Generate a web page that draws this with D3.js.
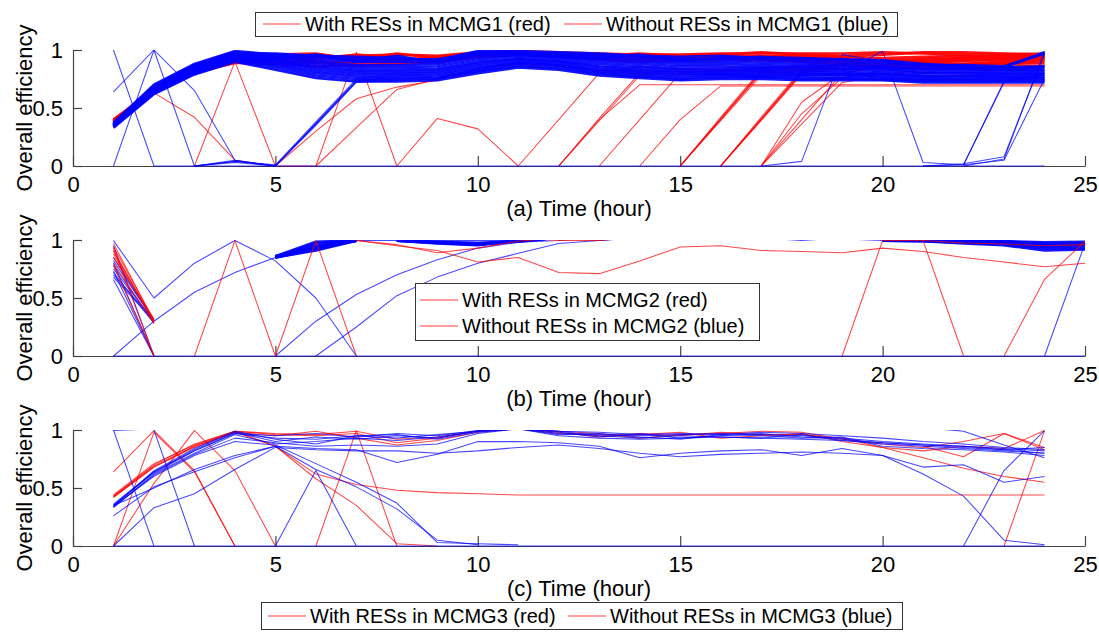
<!DOCTYPE html>
<html><head><meta charset="utf-8">
<script src="https://cdn.jsdelivr.net/npm/d3@7"></script>
<style>
body{margin:0;background:#fff}
svg{display:block}
text{font-family:"Liberation Sans",Arial,Helvetica,sans-serif;fill:#000}
</style>
</head><body>
<svg id="chart" width="1099" height="632"></svg>
<script>
const _ = null;
const hoursA = [1,2,3,4,5,6,7,8,9,10,11,12,13,14,15,16,17,18,19,20,21,22,23,24];
const hoursB = [1,2,3,4,5,6,7,8,9,10,11,12,13,14,15,16,17,18,19,20,21,22,23,24,25];
const hoursC = [1,2,3,4,5,6,7,8,9,10,11,12,13,14,15,16,17,18,19,20,21,22,23,24];
const xTicks = [0,5,10,15,20,25];
const yTicks = [0,0.5,1];
const yTitle = 'Overall efficiency';
const xTitles = ['(a) Time (hour)','(b) Time (hour)','(c) Time (hour)'];
const legendA = ['With RESs in MCMG1 (red)','Without RESs in MCMG1 (blue)'];
const legendB = ['With RESs in MCMG2 (red)','Without RESs in MCMG2 (blue)'];
const legendC = ['With RESs in MCMG3 (red)','Without RESs in MCMG3 (blue)'];

// ---------- panel (a) ----------
const redABand = [
 [0.40,0.66,0.82,0.90,0.93,0.94,0.95,0.96,0.95,0.98,0.99,0.98,0.97,0.96,0.96,0.97,0.97,0.97,0.97,0.98,0.97,0.96,0.96,0.97],
 [0.39,0.65,0.81,0.89,0.96,0.97,0.92,0.97,0.93,0.97,0.98,0.97,0.95,0.97,0.95,0.96,0.98,0.96,0.95,0.96,0.98,0.98,0.97,0.96],
 [0.38,0.64,0.80,0.90,0.91,0.90,0.89,0.90,0.91,0.96,0.97,0.96,0.93,0.92,0.93,0.93,0.94,0.95,0.94,0.93,0.94,0.95,0.93,0.95],
 [0.38,0.65,0.81,0.91,0.94,0.92,0.96,0.93,0.89,0.95,0.96,0.95,0.94,0.93,0.92,0.94,0.93,0.92,0.92,0.91,0.92,0.93,0.95,0.94],
 [0.37,0.64,0.80,0.89,0.88,0.86,0.87,0.88,0.90,0.94,0.96,0.94,0.92,0.90,0.91,0.92,0.91,0.91,0.90,0.90,0.90,0.91,0.92,0.93],
 [0.39,0.66,0.82,0.90,0.92,0.95,0.93,0.91,0.94,0.97,0.97,0.96,0.96,0.94,0.94,0.95,0.95,0.94,0.93,0.89,0.89,0.88,0.90,0.91],
 [0.38,0.65,0.81,0.90,0.90,0.89,0.90,0.92,0.92,0.96,0.98,0.97,0.95,0.95,0.93,0.94,0.92,0.90,0.88,0.87,0.87,0.88,0.88,0.89]
];
const redALines = [
 [0.41,0.63,0.42,0.05,0.00,0.30,0.58,0.68,0.74,0.84,0.88,0.86,0.82,0.80,0.79,0.80,0.80,0.80,0.79,0.80,0.80,0.79,0.80,0.80],
 [_,_,0,0.90,0,0,0.98,0,0.41,0.32,0,0.40,0.80,0.86,0.84,0.85,0.85,0.84,0.84,0.85,0.86,0.85,0.86,0.87],
 [_,_,_,_,_,0,0.33,0.66,0.75,0.84,0.88,0.86,0.83,0.82,0.81,0.82,0.83,0.83,0.84,0.84,0.85,0.84,0.85,0.86],
 [_,_,_,_,_,_,_,_,_,_,_,0,0.40,0.70,0.70,0.70,0.70,0.70,0.70,0.70,0.70,0.70,0.70,0.70],
 [_,_,_,_,_,_,_,_,_,_,_,0,0.41,0.80,0.84,0.83,0.82,0.82,0.83,0.84,0.85,0.86,0.86,0.87],
 [_,_,_,_,_,_,_,_,_,_,_,0,0.39,0.78,0.82,0.81,0.82,0.83,0.84,0.85,0.86,0.87,0.88,0.88],
 [_,_,_,_,_,_,_,_,_,_,_,_,0,0.40,0.80,0.83,0.84,0.85,0.86,0.87,0.88,0.88,0.89,0.90],
 [_,_,_,_,_,_,_,_,_,_,_,_,_,0,0.40,0.69,0.69,0.69,0.69,0.69,0.69,0.69,0.69,0.69],
 [_,_,_,_,_,_,_,_,_,_,_,_,_,_,0,0.40,0.80,0.84,0.86,0.88,0.89,0.90,0.91,0.92],
 [_,_,_,_,_,_,_,_,_,_,_,_,_,_,0,0.41,0.82,0.86,0.88,0.89,0.90,0.91,0.92,0.93],
 [_,_,_,_,_,_,_,_,_,_,_,_,_,_,0,0.39,0.78,0.83,0.87,0.88,0.90,0.92,0.93,0.94],
 [_,_,_,_,_,_,_,_,_,_,_,_,_,_,0,0.42,0.83,0.87,0.89,0.91,0.92,0.93,0.94,0.95],
 [_,_,_,_,_,_,_,_,_,_,_,_,_,_,0,0.40,0.81,0.85,0.88,0.90,0.91,0.94,0.95,0.96],
 [_,_,_,_,_,_,_,_,_,_,_,_,_,_,_,0,0.40,0.80,0.86,0.88,0.90,0.91,0.92,0.93],
 [_,_,_,_,_,_,_,_,_,_,_,_,_,_,_,0,0.41,0.82,0.87,0.89,0.90,0.92,0.93,0.94],
 [_,_,_,_,_,_,_,_,_,_,_,_,_,_,_,0,0.39,0.79,0.85,0.88,0.91,0.93,0.94,0.95],
 [_,_,_,_,_,_,_,_,_,_,_,_,_,_,_,0,0.42,0.83,0.88,0.90,0.92,0.93,0.95,0.96],
 [_,_,_,_,_,_,_,_,_,_,_,_,_,_,_,0,0.40,0.81,0.87,0.91,0.93,0.95,0.96,0.97],
 [_,_,_,_,_,_,_,_,_,_,_,_,_,_,_,_,0,0.45,0.76,0.82,0.86,0.88,0.90,0.92],
 [_,_,_,_,_,_,_,_,_,_,_,_,_,_,_,_,0,0.36,0.72,0.78,0.84,0.87,0.89,0.91],
 [_,_,_,_,_,_,_,_,_,_,_,_,_,_,_,_,0,0.55,0.80,0.85,0.88,0.90,0.92,0.94],
 [_,_,_,_,_,_,_,_,_,_,_,_,_,_,_,_,0,0.40,0.80,0.86,0.89,0.91,0.93,0.95]
];
const blueABand = [
 [0.33,0.62,0.79,0.90,0.83,0.76,0.73,0.73,0.74,0.80,0.85,0.83,0.78,0.76,0.74,0.75,0.75,0.74,0.74,0.74,0.72,0.72,0.72,0.72],
 [0.34,0.63,0.80,0.91,0.85,0.78,0.75,0.75,0.76,0.82,0.87,0.85,0.80,0.78,0.76,0.77,0.77,0.76,0.76,0.75,0.74,0.74,0.74,0.74],
 [0.34,0.64,0.81,0.92,0.87,0.80,0.77,0.77,0.78,0.84,0.89,0.87,0.82,0.80,0.78,0.79,0.78,0.78,0.78,0.77,0.75,0.75,0.76,0.76],
 [0.35,0.65,0.82,0.93,0.88,0.82,0.79,0.79,0.80,0.86,0.90,0.88,0.84,0.82,0.80,0.80,0.80,0.79,0.79,0.79,0.77,0.77,0.77,0.77],
 [0.35,0.66,0.83,0.94,0.90,0.84,0.81,0.81,0.82,0.88,0.92,0.90,0.86,0.84,0.82,0.82,0.82,0.81,0.81,0.80,0.78,0.78,0.79,0.79],
 [0.35,0.66,0.84,0.95,0.91,0.86,0.83,0.83,0.84,0.90,0.93,0.91,0.88,0.86,0.84,0.84,0.84,0.83,0.83,0.82,0.80,0.80,0.80,0.80],
 [0.36,0.67,0.85,0.96,0.92,0.88,0.85,0.85,0.86,0.92,0.95,0.93,0.90,0.88,0.86,0.86,0.85,0.85,0.84,0.84,0.81,0.81,0.82,0.82],
 [0.36,0.68,0.86,0.97,0.94,0.90,0.87,0.87,0.88,0.94,0.96,0.94,0.92,0.90,0.88,0.88,0.87,0.86,0.86,0.85,0.83,0.83,0.83,0.83],
 [0.37,0.69,0.87,0.98,0.95,0.92,0.90,0.90,0.90,0.96,0.97,0.96,0.94,0.92,0.90,0.90,0.89,0.88,0.87,0.86,0.84,0.84,0.84,0.85],
 [0.37,0.70,0.88,0.99,0.96,0.94,0.92,0.92,0.92,0.98,0.98,0.97,0.96,0.94,0.92,0.92,0.91,0.90,0.89,0.88,0.86,0.85,0.85,0.86],
 [0.36,0.68,0.86,0.97,0.97,0.95,0.94,0.93,0.91,0.99,0.99,0.98,0.97,0.95,0.94,0.95,0.93,0.92,0.91,0.90,0.87,0.87,0.86,0.97],
 [0.35,0.65,0.83,0.96,0.93,0.96,0.90,0.95,0.89,0.97,0.96,0.95,0.93,0.96,0.91,0.93,0.94,0.93,0.92,0.91,0.88,0.86,0.85,0.98]
];
const blueALines = [
 [1.00,0,0,0,0,0,0,0,0,0,0,0,0,0,0,0,0,0,0,0,0,0,0,0],
 [0,1.00,0],
 [0.64,1.00,0.65,0.05,0.00,0.36,0.73,0.75,0.76,0.82,0.86,0.84,0.80,0.77,0.75,0.76,0.76,0.75,0.75,0.75,0.73,0.73,0.73,0.73],
 [_,_,0,0.04,0,0.35,0.72,0.74,0.75,0.81,0.86,0.84,0.79,0.77,0.75,0.76,0.76,0.75,0.75,0.74,0.73,0.72,0.73,0.73],
 [_,_,0,0.05,0,0.37,0.74,0.76,0.77,0.83,0.88,0.86,0.81,0.79,0.77,0.78,0.77,0.77,0.76,0.76,0.74,0.74,0.74,0.75],
 [_,_,0,0.03,0,0.36,0.73,0.78,0.79,0.85,0.89,0.87,0.83,0.81,0.79,0.79,0.79,0.78,0.78,0.77,0.76,0.75,0.75,0.76],
 [_,_,0,0.04,0.01,0.38,0.75,0.80,0.81,0.87,0.91,0.89,0.85,0.83,0.81,0.81,0.81,0.80,0.80,0.79,0.77,0.77,0.78,0.78],
 [_,_,_,_,_,_,_,_,_,_,_,_,_,_,_,_,0,0.04,0.96,0.90,0.87,0.86,0.85,0.86],
 [0.36,0.67,0.85,0.95,0.90,0.85,0.82,0.82,0.83,0.89,0.92,0.90,0.86,0.85,0.83,0.83,0.82,0.82,0.81,0.99,0.03,0.01,0.73,0.80],
 [_,_,_,_,_,_,_,_,_,_,_,_,_,_,_,_,_,_,_,_,_,0,0.06,0.99],
 [_,_,_,_,_,_,_,_,_,_,_,_,_,_,_,_,_,_,_,_,0,0.01,0.72,0.86],
 [_,_,_,_,_,_,_,_,_,_,_,_,_,_,_,_,_,_,_,_,0,0.02,0.08,0.97],
 [_,_,_,_,_,_,_,_,_,_,_,_,_,_,_,_,_,_,_,_,_,0.01,0.05,0.75]
];

// ---------- panel (b) ----------
const blueBBand = [
 [_,_,_,_,0.85,0.91,0.995],
 [_,_,_,_,0.85,0.93,0.995],
 [_,_,_,_,0.86,0.95,0.995],
 [_,_,_,_,0.85,0.97,0.995],
 [_,_,_,_,0.86,0.985,0.995],
 [_,_,_,_,0.85,0.92,0.995],
 [_,_,_,_,0.86,0.94,0.995],
 [_,_,_,_,_,_,_,0.995,0.97,0.955,0.99,1.02],
 [_,_,_,_,_,_,_,0.995,0.975,0.96,0.995,1.02],
 [_,_,_,_,_,_,_,0.995,0.98,0.965,0.985,1.02],
 [_,_,_,_,_,_,_,0.995,0.985,0.975,0.99,1.02],
 [_,_,_,_,_,_,_,_,_,_,_,_,_,_,_,_,_,_,_,0.995,0.99,0.97,0.955,0.91,0.92],
 [_,_,_,_,_,_,_,_,_,_,_,_,_,_,_,_,_,_,_,0.995,0.99,0.98,0.96,0.93,0.93],
 [_,_,_,_,_,_,_,_,_,_,_,_,_,_,_,_,_,_,_,0.995,0.995,0.985,0.97,0.94,0.95],
 [_,_,_,_,_,_,_,_,_,_,_,_,_,_,_,_,_,_,_,0.995,0.995,0.99,0.98,0.955,0.96],
 [_,_,_,_,_,_,_,_,_,_,_,_,_,_,_,_,_,_,_,0.995,0.995,0.99,0.985,0.97,0.97],
 [_,_,_,_,_,_,_,_,_,_,_,_,_,_,_,_,_,_,_,0.995,0.995,0.995,0.99,0.98,0.985]
];
const blueBLines = [
 [0,0,0,0,0,0,0,0,0,0,0,0,0,0,0,0,0,0,0,0,0,0,0,0,0],
 [0.85,0.30],[0.82,0.31],[0.78,0.29],[0.75,0.30],[0.72,0.28],[0.70,0.31],[0.68,0.30],
 [0.80,0.00],[0.73,0.00],[0.66,0.00],[0.95,0.00],
 [0.995,0.50,0.80,0.995,0.82,0.50,0.00],
 [0,0.30,0.55,0.72,0.85,0.92,0.995,0.995,0.995,0.995,0.995,1.02],
 [_,_,_,_,0,0.30,0.53,0.70,0.83,0.93,0.98,0.995,1.02],
 [_,_,_,_,_,0,0.25,0.52,0.68,0.80,0.885,0.97,0.995,1.02],
 [_,_,_,_,_,_,_,_,_,_,_,1.02,0.995,1.03],
 [_,_,_,_,_,_,_,_,_,_,_,_,_,_,_,_,1.02,0.995,1.02],
 [_,_,_,_,_,_,_,_,_,_,_,_,_,_,_,_,_,_,1.01,0.995,0.995],
 [_,_,_,_,_,_,_,_,_,_,_,_,_,_,_,_,_,_,_,_,_,_,_,0,0.97]
];
const redBLines = [
 [0.97,0.30],[0.94,0.31],[0.91,0.29],[0.88,0.30],[0.85,0.32],[0.80,0.28],[0.90,0.30],
 [0.93,0.00],[0.78,0.00],
 [_,_,0,0.995,0,0.995,0],
 [_,_,_,_,_,_,0.995,0.95,0.91,0.81,0.85,0.72,0.71,0.82,0.94,0.95,0.91,0.90,0.89,0.93,0.90,0.85,0.81,0.77,0.80],
 [_,_,_,_,_,_,0.995,0.96,0.89,0.93,0.99,1.02],
 [_,_,_,_,_,_,_,_,_,_,_,_,_,_,_,_,_,_,_,_,_,_,0,0.66,0.99],
 [_,_,_,_,_,_,_,_,_,_,_,_,_,_,_,_,_,_,0,0.995,0.995,0],
 [_,_,_,_,_,_,_,_,_,_,_,_,_,_,_,_,_,_,_,_,0.995,0.975,0.965,0.95,0.96],
 [_,_,_,_,_,_,_,_,_,_,1.02,0.995,0.995,1.03]
];

// ---------- panel (c) ----------
const redCLines = [
 [0.64,0.995,0.65,0],
 [0,0.54,0.995,0.65,0],
 [0,0.98,0.64,0],
 [0.43,0.69,0.86,0.99,0.86,0.62,0.53,0.48,0.46,0.45,0.44,0.44,0.44,0.44,0.44,0.44,0.44,0.44,0.44,0.44,0.44,0.44,0.44,0.44],
 [0.42,0.68,0.85,0.98,0.86,0.58,0.35,0.02,0],
 [_,_,_,_,_,0,0.995,0],
 [0.43,0.70,0.88,0.99,0.97,0.96,0.99,0.92,0.94,0.99,1.01,0.99,0.97,0.93,0.96,0.97,0.99,0.98,0.92,0.88,0.85,0.90,0.97,0.85],
 [0.42,0.68,0.86,0.98,0.95,0.99,0.93,0.87,0.91,0.98,1.01,0.98,0.94,0.96,0.98,0.93,0.95,0.97,0.90,0.85,0.82,0.86,0.84,0.995],
 [0.44,0.71,0.87,0.99,0.96,0.95,0.97,0.89,0.93,0.995,1.01,0.97,0.95,0.97,0.95,0.98,0.96,0.96,0.93,0.85,0.76,0.67,0.60,0.55],
 [_,_,_,_,_,_,_,_,_,_,_,_,_,_,_,_,_,_,_,_,_,_,0,0.995],
 [_,_,_,_,_,_,_,_,_,_,_,_,_,_,_,_,_,_,_,_,0.86,0.77,0.97,0.83]
];
const blueCLines = [
 [0,0,0,0,0,0,0,0,0,0,0,0,0,0,0,0,0,0,0,0,0,0,0,0],
 [1.00,0],
 [0.995,1.01],
 [_,1.00,0],
 [0.35,0.63,0.82,0.97,0.93,0.92,0.95,0.93,0.96,0.99,1.01,0.97,0.96,0.95,0.96,0.97,0.96,0.95,0.93,0.90,0.88,0.86,0.84,0.82],
 [0.36,0.64,0.83,0.98,0.90,0.94,0.92,0.95,0.93,0.99,1.01,0.98,0.94,0.97,0.93,0.95,0.97,0.94,0.92,0.89,0.87,0.85,0.83,0.85],
 [0.33,0.62,0.80,0.96,0.88,0.90,0.93,0.91,0.94,0.99,1.01,0.99,0.95,0.93,0.95,0.94,0.93,0.96,0.91,0.88,0.86,0.84,0.82,0.80],
 [0.34,0.65,0.84,0.99,0.92,0.88,0.95,0.96,0.92,0.98,1.01,0.96,0.97,0.94,0.92,0.96,0.95,0.93,0.94,0.86,0.84,0.83,0.81,0.78],
 [0.34,0.61,0.79,0.93,0.89,0.86,0.87,0.86,0.88,0.97,1.01,0.95,0.93,0.92,0.93,0.94,0.93,0.92,0.91,0.89,0.87,0.86,0.83,0.80],
 [0.35,0.64,0.82,0.97,0.95,0.97,0.94,0.97,0.95,0.995,1.01,0.99,0.98,0.96,0.97,0.96,0.98,0.97,0.95,0.93,0.90,0.88,0.85,0.83],
 [0.26,0.51,0.64,0.76,0.86,0.84,0.83,0.72,0.79,0.90,0.90,0.89,0.86,0.76,0.80,0.82,0.83,0.78,0.84,0.78,0.62,0.43,0.05,0.01],
 [0,0.33,0.45,0.66,0.85,0.83,0.82,0.82,0.80,0.82,0.85,0.87,0.84,0.80,0.77,0.79,0.80,0.81,0.80,0.78,0.68,0.70,0.55,0.60],
 [0.34,0.60,0.78,0.90,0.87,0.71,0.55,0.37,0.03,0.02,0.01],
 [0.35,0.50,0.66,0.78,0.86,0.66,0.51,0.32,0.05,0.01],
 [_,_,_,_,0,0.65,0],
 [_,_,_,_,_,_,_,_,_,_,_,_,_,_,_,_,_,_,_,_,1.02,0.99,0.87,0.76],
 [_,_,_,_,_,_,_,_,_,_,_,_,_,_,_,_,_,_,_,_,_,0,0.65,0.995]
];

// ---------- drawing ----------
const RED = '#ff0000', BLUE = '#0000ff', AXIS = '#444';
const styles = { thin: {w:1.05, o:0.72}, band: {w:2.7, o:0.92} };
const svg = d3.select('#chart');
const x = d3.scaleLinear().domain([0,25]).range([73,1085]);

const panels = [
  {top:50, bot:166, hours:hoursA, title:xTitles[0],
   layers:[[redABand,'band',RED],[redALines,'thin',RED],[blueABand,'band',BLUE],[blueALines,'thin',BLUE]]},
  {top:240, bot:356, hours:hoursB, title:xTitles[1],
   layers:[[blueBBand,'band',BLUE],[blueBLines,'thin',BLUE],[redBLines,'thin',RED]]},
  {top:430, bot:546, hours:hoursC, title:xTitles[2],
   layers:[[redCLines,'thin',RED],[blueCLines,'thin',BLUE]]}
];

panels.forEach((p, pi) => {
  const y = d3.scaleLinear().domain([0,1]).range([p.bot, p.top]);
  const g = svg.append('g');

  const xa = g.append('g').attr('transform', `translate(0,${p.bot})`)
    .call(d3.axisBottom(x).tickValues(xTicks).tickFormat(d3.format('d')).tickSizeInner(-10).tickSizeOuter(0).tickPadding(10));
  const ya = g.append('g').attr('transform', `translate(${x(0)},0)`)
    .call(d3.axisLeft(y).tickValues(yTicks).tickFormat(d => d === 0.5 ? '0.5' : String(d)).tickSizeInner(-9).tickSizeOuter(0).tickPadding(10));
  [xa, ya].forEach(a => {
    a.select('.domain').attr('stroke', AXIS).attr('stroke-width', 1.2);
    a.selectAll('.tick line').attr('stroke', AXIS).attr('stroke-width', 1.2);
    a.selectAll('.tick text').style('font-size', '22px').attr('fill', '#000');
  });

  const clipId = 'clip' + pi;
  svg.append('clipPath').attr('id', clipId).append('rect')
    .attr('x', x(0)).attr('y', p.top).attr('width', x(25) - x(0) + 2).attr('height', p.bot - p.top + 2);

  const lineGen = d3.line().defined(d => d[1] != null).x(d => x(d[0])).y(d => y(d[1]));
  const dg = g.append('g').attr('clip-path', `url(#${clipId})`);
  p.layers.forEach(([series, kind, color]) => {
    const st = styles[kind];
    series.forEach(s => {
      dg.append('path')
        .datum(s.map((v, i) => [p.hours[i], v]))
        .attr('d', lineGen)
        .attr('fill', 'none')
        .attr('stroke', color)
        .attr('stroke-width', st.w)
        .attr('stroke-opacity', st.o)
        .attr('stroke-linejoin', 'round');
    });
  });

  g.append('text').attr('x', (x(0) + x(25)) / 2).attr('y', p.bot + 50)
    .attr('text-anchor', 'middle').style('font-size', '22px').text(p.title);
  g.append('text').attr('transform', `translate(32,${(p.top + p.bot) / 2}) rotate(-90)`)
    .attr('text-anchor', 'middle').style('font-size', '22px').text(yTitle);
});

function legendRow(gl, x1, yy, label) {
  gl.append('line').attr('x1', x1).attr('x2', x1 + 38).attr('y1', yy).attr('y2', yy)
    .attr('stroke', RED).attr('stroke-opacity', 0.75).attr('stroke-width', 1.1);
  gl.append('text').attr('x', x1 + 42).attr('y', yy).attr('dy', '0.35em')
    .style('font-size', '20px').text(label);
}
// legend (a)
{
  const gl = svg.append('g');
  gl.append('rect').attr('x', 255.5).attr('y', 12.5).attr('width', 642).attr('height', 24)
    .attr('fill', '#fff').attr('stroke', '#333');
  legendRow(gl, 263, 24, legendA[0]);
  legendRow(gl, 564, 24, legendA[1]);
}
// legend (b)
{
  const gl = svg.append('g');
  gl.append('rect').attr('x', 415.5).attr('y', 283.5).attr('width', 344).attr('height', 57)
    .attr('fill', '#fff').attr('stroke', '#333');
  legendRow(gl, 420, 300, legendB[0]);
  legendRow(gl, 420, 326, legendB[1]);
}
// legend (c)
{
  const gl = svg.append('g');
  gl.append('rect').attr('x', 261.5).attr('y', 602.5).attr('width', 641).attr('height', 27)
    .attr('fill', '#fff').attr('stroke', '#333');
  legendRow(gl, 268, 616, legendC[0]);
  legendRow(gl, 568, 616, legendC[1]);
}
</script>
</body></html>
